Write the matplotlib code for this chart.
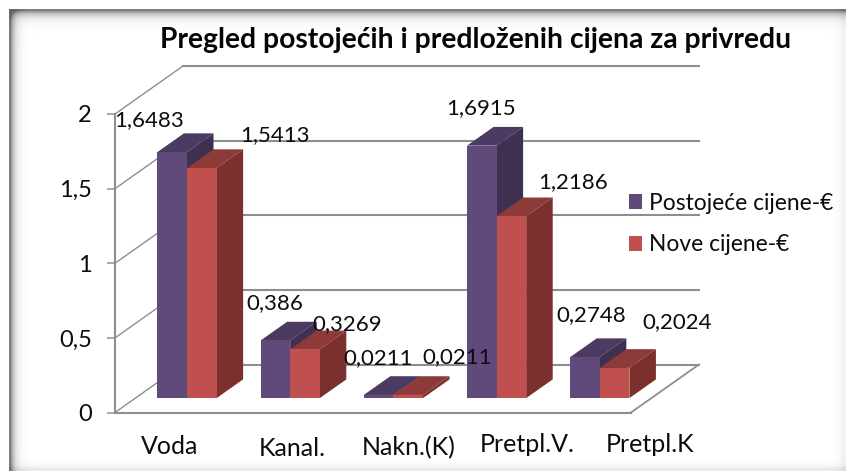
import numpy as np
import matplotlib
matplotlib.use("Agg")
import matplotlib.pyplot as plt
from matplotlib.patches import Polygon, Patch

categories = ["Voda", "Kanal.", "Nakn.(K)", "Pretpl.V.", "Pretpl.K"]
postojece = [1.6483, 0.386, 0.0211, 1.6915, 0.2748]
nove = [1.5413, 0.3269, 0.0211, 1.2186, 0.2024]
postojece_labels = ["1,6483", "0,386", "0,0211", "1,6915", "0,2748"]
nove_labels = ["1,5413", "0,3269", "0,0211", "1,2186", "0,2024"]
yticks = [0, 0.5, 1, 1.5, 2]
ytick_labels = ["0", "0,5", "1", "1,5", "2"]
series_names = ["Postojeće cijene-€", "Nove cijene-€"]

W, H = 848, 471
FONT = "Lato"
plt.rcParams["font.family"] = [FONT, "DejaVu Sans"]
fig = plt.figure(figsize=(W / 100, H / 100), dpi=100, facecolor="white")

# picture-frame shadow
bg = fig.add_axes([0, 0, 1, 1], zorder=0)
yy, xx = np.mgrid[0:H, 0:W]
shade = (0.50 * np.exp(-np.clip(xx - 10, 0, None) / 4.0)
         + 0.50 * np.exp(-np.clip(yy - 10, 0, None) / 4.5)
         + 0.05 * np.exp(-np.clip(W - 6 - xx, 0, None) / 4.0)
         + 0.08 * np.exp(-np.clip(H - 3 - yy, 0, None) / 3.0))
img = 1 - np.clip(shade, 0, 0.6)
img[(xx < 9) | (yy < 9) | (xx > W - 3) | (yy > H - 1)] = 1
bg.imshow(img, cmap="gray", vmin=0, vmax=1, aspect="auto", extent=(0, W, H, 0))
bg.axis("off")

# main axes: the front plane of the 3D box
L, R, B, T = 115, 631, 412.5, 114
ax = fig.add_axes([L / W, 1 - B / H, (R - L) / W, (B - T) / H], zorder=1)
ax.patch.set_alpha(0)
ax.set_xlim(-0.5, 4.5)
ax.set_ylim(0, 2)
GRID = "#8E8E8E"
for s in ("top", "right"):
    ax.spines[s].set_visible(False)
for s in ("left", "bottom"):
    ax.spines[s].set_color(GRID)
    ax.spines[s].set_linewidth(1.5)
ax.set_xticks([])
ax.set_yticks(yticks, ytick_labels, fontsize=17, color="#0C0C0C")
ax.tick_params(axis="y", length=5.8, width=1.1, color=GRID, pad=11)

cat_px = (R - L) / 5
unit_px = (B - T) / 2
DX = 68 / cat_px       # box depth in x data units
DY = 48 / unit_px      # box depth in y data units
ymax, x0, x1 = 2, -0.5, 4.5

for v in yticks:
    ax.plot([x0 + DX, x1 + DX], [v + DY, v + DY], color=GRID, lw=1.5, clip_on=False, zorder=1)
    ax.plot([x0, x0 + DX], [v, v + DY], color=GRID, lw=1.0, clip_on=False, zorder=1)
ax.plot([x1, x1 + DX], [0, DY], color=GRID, lw=1.3, clip_on=False, zorder=1)

# bars in mid-depth of the box
D0, D1 = 0.30, 0.69
BW = 29.6 / cat_px
depth_x, depth_y = (D1 - D0) * DX, (D1 - D0) * DY
x_shift, y_shift = D0 * DX, D0 * DY
styles = [("#604A7B", "#4B3A61", "#3F3052"), ("#C0504D", "#8E3A38", "#7C302E")]


def bar3d(xl, h, cols, z):
    front, top, side = cols
    xl += x_shift
    ax.bar(xl, h, BW, bottom=y_shift, align="edge", color=front, lw=0, clip_on=False, zorder=z + 0.2)
    yb, yt, xr = y_shift, y_shift + h, xl + BW
    ax.add_patch(Polygon([(xl, yt), (xr, yt), (xr + depth_x, yt + depth_y), (xl + depth_x, yt + depth_y)],
                         fc=top, lw=0, clip_on=False, zorder=z))
    ax.add_patch(Polygon([(xr, yb), (xr, yt), (xr + depth_x, yt + depth_y), (xr + depth_x, yb + depth_y)],
                         fc=side, lw=0, clip_on=False, zorder=z + 0.1))


for i, (a, b) in enumerate(zip(postojece, nove)):
    bar3d(i - BW, a, styles[0], 2 + i)
    bar3d(i, b, styles[1], 2.5 + i)


def px(x, y):
    return x / W, 1 - y / H


fig.text(*px(476, 40), "Pregled postojećih i predloženih cijena za privredu", fontsize=20.3,
         fontweight="bold", ha="center", va="center", color="#050505", zorder=5)

post_pos = [(149, 120), (275, 303), (378, 358), (481, 108), (591, 315)]
nove_pos = [(275, 135), (347, 324), (457, 357), (573, 182), (677, 322)]
for labels, pos in ((postojece_labels, post_pos), (nove_labels, nove_pos)):
    for s, p in zip(labels, pos):
        fig.text(*px(*p), s, fontsize=16, ha="center", va="center", color="#0C0C0C", zorder=5)

cat_pos = [(170, 447), (292, 449), (409, 448), (527, 445), (650, 444)]
for s, p in zip(categories, cat_pos):
    fig.text(*px(*p), s, fontsize=18, ha="center", va="center", color="#0C0C0C", zorder=5)

handles = [Patch(fc=styles[0][0], lw=0), Patch(fc=styles[1][0], lw=0)]
leg = fig.legend(handles, series_names, loc="center left", bbox_to_anchor=px(608, 224), frameon=False,
                 fontsize=16.4, handlelength=0.61, handleheight=0.61, handletextpad=0.31, labelspacing=0.9,
                 labelcolor="#0C0C0C")
leg.set_zorder(5)

fig.savefig("out.png", dpi=100)
